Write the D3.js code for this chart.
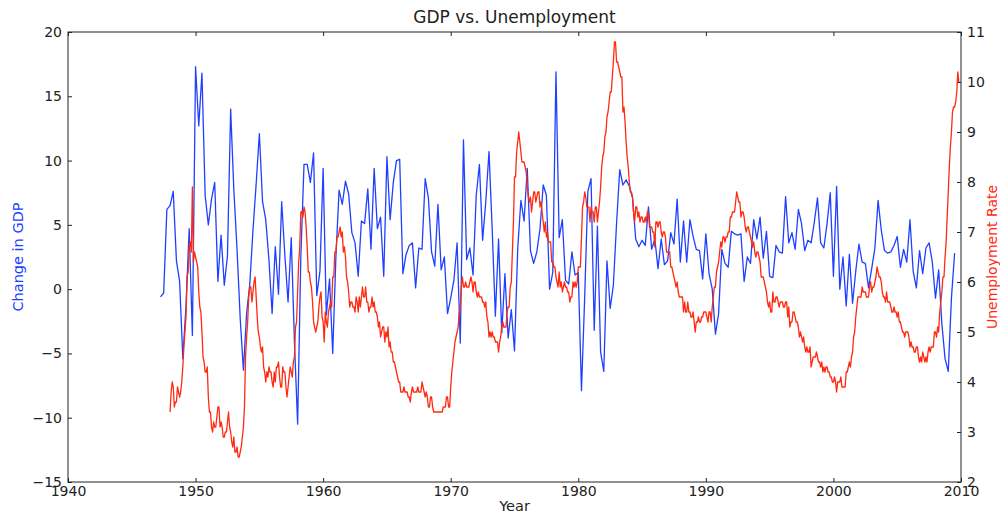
<!DOCTYPE html>
<html>
<head>
<meta charset="UTF-8">
<title>GDP vs. Unemployment</title>
<script src="https://d3js.org/d3.v7.min.js"></script>
<style>
body{margin:0;background:#fff;}
text{font-family:"DejaVu Sans",sans-serif;fill:#222;}
</style>
</head>
<body>
<script>
// quarterly real GDP change (annualised %), first value is 1947 Q2
var gdpStart = 1947.25;
var gdpChange = [
  -0.6,-0.3,6.2,
  6.5,7.6,2.2,0.6,
  -5.4,-1.3,4.7,-3.6,
  17.3,12.7,16.8,7.3,
  5.0,7.0,8.3,0.6,
  4.2,0.3,2.6,14.0,
  7.7,3.1,-2.3,-6.3,
  -1.9,0.4,4.6,8.2,
  12.1,6.8,5.4,2.3,
  -1.9,3.3,-0.4,6.8,
  2.6,-1.0,4.0,-4.1,
  -10.5,2.5,9.7,9.7,
  8.3,10.6,-0.5,1.4,
  9.4,-2.0,0.8,-5.0,
  2.5,7.7,6.6,8.4,
  7.4,4.4,3.6,1.0,
  5.3,5.1,7.8,3.1,
  9.4,4.7,5.6,1.0,
  10.3,5.4,8.3,10.0,
  10.1,1.2,2.7,3.4,
  3.6,0.1,3.2,3.1,
  8.6,7.1,2.9,1.8,
  6.6,1.5,2.5,-1.9,
  -0.7,0.7,3.6,-4.2,
  11.6,2.3,3.2,1.1,
  7.3,9.7,3.8,6.8,
  10.7,4.7,-2.1,3.9,
  -3.4,1.2,-3.8,-1.6,
  -4.8,3.1,6.9,5.3,
  9.4,3.0,2.0,2.9,
  4.7,8.1,7.3,0.0,
  1.3,16.9,4.0,5.4,
  0.7,0.4,2.9,1.1,
  1.3,-7.9,-0.7,7.6,
  8.6,-3.2,4.9,-4.9,
  -6.4,2.2,-1.5,0.3,
  5.1,9.3,8.1,8.5,
  8.0,7.1,3.9,3.3,
  3.8,3.4,6.4,3.1,
  3.9,1.6,3.9,1.9,
  2.2,4.4,3.5,7.0,
  2.1,5.3,2.1,5.4,
  4.1,3.1,3.0,0.8,
  4.3,1.2,0.0,-3.5,
  -1.9,3.1,2.0,1.7,
  4.5,4.3,4.2,4.3,
  0.6,2.5,2.0,5.4,
  3.9,5.6,2.4,4.5,
  1.0,0.9,3.4,2.9,
  2.8,7.2,3.6,4.4,
  3.1,6.2,5.1,3.0,
  3.8,3.6,5.2,7.1,
  3.6,3.2,5.1,7.5,
  1.0,8.0,0.0,2.5,
  -1.3,2.7,-1.1,1.4,
  3.5,2.1,2.0,0.1,
  1.6,3.2,6.9,4.6,
  3.0,2.8,2.9,3.4,
  4.1,1.7,3.1,2.1,
  5.4,1.4,0.1,3.0,
  1.2,3.2,3.6,2.1,
  -0.7,1.5,-2.7,-5.4,
  -6.4,-0.7,2.8
];

// monthly unemployment rate (%), first value is January 1948
var unempStart = 1948;
var unempRate = [
  3.4,3.8,4.0,3.9,3.5,3.6,3.6,3.9,3.8,3.7,3.8,4.0,
  4.3,4.7,5.0,5.3,6.1,6.2,6.7,6.8,6.6,7.9,6.4,6.6,
  6.5,6.4,6.3,5.8,5.5,5.4,5.0,4.5,4.4,4.2,4.2,4.3,
  3.7,3.4,3.4,3.1,3.0,3.2,3.1,3.1,3.3,3.5,3.5,3.1,
  3.2,3.1,2.9,2.9,3.0,3.0,3.2,3.4,3.1,3.0,2.8,2.7,
  2.9,2.6,2.6,2.7,2.5,2.5,2.6,2.7,2.9,3.1,3.5,4.5,
  4.9,5.2,5.7,5.9,5.9,5.6,5.8,6.0,6.1,5.7,5.3,5.0,
  4.9,4.7,4.6,4.7,4.3,4.2,4.0,4.2,4.1,4.3,4.2,4.2,
  4.0,3.9,4.2,4.0,4.3,4.3,4.4,4.1,3.9,3.9,4.3,4.2,
  4.2,3.9,3.7,3.9,4.1,4.3,4.2,4.1,4.4,4.5,5.1,5.2,
  5.8,6.4,6.7,7.4,7.4,7.3,7.5,7.4,7.1,6.7,6.2,6.2,
  6.0,5.9,5.6,5.2,5.1,5.0,5.1,5.2,5.5,5.7,5.8,5.3,
  5.2,4.8,5.4,5.2,5.1,5.4,5.5,5.6,5.5,6.1,6.1,6.6,
  6.6,6.9,6.9,7.0,7.1,6.9,7.0,6.6,6.7,6.5,6.1,6.0,
  5.8,5.5,5.6,5.6,5.5,5.5,5.4,5.7,5.6,5.4,5.7,5.5,
  5.7,5.9,5.7,5.7,5.9,5.6,5.6,5.4,5.5,5.5,5.7,5.5,
  5.6,5.4,5.4,5.3,5.1,5.2,4.9,5.0,5.1,5.1,4.8,5.0,
  4.9,5.1,4.7,4.8,4.6,4.6,4.4,4.4,4.3,4.2,4.1,4.0,
  4.0,3.8,3.8,3.8,3.9,3.8,3.8,3.8,3.7,3.7,3.6,3.8,
  3.9,3.8,3.8,3.8,3.8,3.9,3.8,3.8,3.8,4.0,3.9,3.8,
  3.7,3.8,3.7,3.5,3.5,3.7,3.7,3.5,3.4,3.4,3.4,3.4,
  3.4,3.4,3.4,3.4,3.4,3.5,3.5,3.5,3.7,3.7,3.5,3.5,
  3.9,4.2,4.4,4.6,4.8,4.9,5.0,5.1,5.4,5.5,5.9,6.1,
  5.9,5.9,6.0,5.9,5.9,5.9,6.0,6.1,6.0,5.8,6.0,6.0,
  5.8,5.7,5.8,5.7,5.7,5.7,5.6,5.6,5.5,5.6,5.3,5.2,
  4.9,5.0,4.9,5.0,4.9,4.9,4.8,4.8,4.8,4.6,4.8,4.9,
  5.1,5.2,5.1,5.1,5.1,5.4,5.5,5.5,5.9,6.0,6.6,7.2,
  8.1,8.1,8.6,8.8,9.0,8.8,8.6,8.4,8.4,8.4,8.3,8.2,
  7.9,7.7,7.6,7.7,7.4,7.6,7.8,7.8,7.6,7.7,7.8,7.8,
  7.5,7.6,7.4,7.2,7.0,7.2,6.9,7.0,6.8,6.8,6.8,6.4,
  6.4,6.3,6.3,6.1,6.0,5.9,6.2,5.9,6.0,5.8,5.9,6.0,
  5.9,5.9,5.8,5.8,5.6,5.7,5.7,6.0,5.9,6.0,5.9,6.0,
  6.3,6.3,6.3,6.9,7.5,7.6,7.8,7.7,7.5,7.5,7.5,7.2,
  7.5,7.4,7.4,7.2,7.5,7.5,7.2,7.4,7.6,7.9,8.3,8.5,
  8.6,8.9,9.0,9.3,9.4,9.6,9.8,9.8,10.1,10.4,10.8,10.8,
  10.4,10.4,10.3,10.2,10.1,10.1,9.4,9.5,9.2,8.8,8.5,8.3,
  8.0,7.8,7.8,7.7,7.4,7.2,7.5,7.5,7.3,7.4,7.2,7.3,
  7.3,7.2,7.2,7.3,7.2,7.4,7.4,7.1,7.1,7.1,7.0,7.0,
  6.7,7.2,7.2,7.1,7.2,7.2,7.0,6.9,7.0,7.0,6.9,6.6,
  6.6,6.6,6.6,6.3,6.3,6.2,6.1,6.0,5.9,6.0,5.8,5.7,
  5.7,5.7,5.7,5.4,5.6,5.4,5.4,5.6,5.4,5.4,5.3,5.3,
  5.4,5.2,5.0,5.2,5.2,5.3,5.2,5.2,5.3,5.3,5.4,5.4,
  5.4,5.3,5.2,5.4,5.4,5.2,5.5,5.7,5.9,5.9,6.2,6.3,
  6.4,6.6,6.8,6.7,6.9,6.9,6.8,6.9,6.9,7.0,7.0,7.3,
  7.3,7.4,7.4,7.4,7.6,7.8,7.7,7.6,7.6,7.3,7.4,7.4,
  7.3,7.1,7.0,7.1,7.1,7.0,6.9,6.8,6.7,6.8,6.6,6.5,
  6.6,6.6,6.5,6.4,6.1,6.1,6.1,6.0,5.9,5.8,5.6,5.5,
  5.6,5.4,5.4,5.8,5.6,5.6,5.7,5.7,5.6,5.5,5.6,5.6,
  5.6,5.5,5.5,5.6,5.6,5.3,5.5,5.1,5.2,5.2,5.4,5.4,
  5.3,5.2,5.2,5.1,4.9,5.0,4.9,4.8,4.9,4.7,4.6,4.7,
  4.6,4.6,4.7,4.3,4.4,4.5,4.5,4.5,4.6,4.5,4.4,4.4,
  4.3,4.4,4.2,4.3,4.2,4.3,4.3,4.2,4.2,4.1,4.1,4.0,
  4.0,4.1,4.0,3.8,4.0,4.0,4.0,4.1,3.9,3.9,3.9,3.9,
  4.2,4.2,4.3,4.4,4.3,4.5,4.6,4.9,5.0,5.3,5.5,5.7,
  5.7,5.7,5.7,5.9,5.8,5.8,5.8,5.7,5.7,5.7,5.9,6.0,
  5.8,5.9,5.9,6.0,6.1,6.3,6.2,6.1,6.1,6.0,5.8,5.7,
  5.7,5.6,5.8,5.6,5.6,5.6,5.5,5.4,5.4,5.5,5.4,5.4,
  5.3,5.4,5.2,5.2,5.1,5.0,5.0,4.9,5.0,5.0,5.0,4.9,
  4.7,4.8,4.7,4.7,4.6,4.6,4.7,4.7,4.5,4.4,4.5,4.4,
  4.6,4.5,4.4,4.5,4.4,4.6,4.7,4.6,4.7,4.7,4.7,5.0,
  5.0,4.9,5.1,5.0,5.4,5.6,5.8,6.1,6.1,6.5,6.8,7.3,
  7.8,8.3,8.7,9.0,9.4,9.5,9.5,9.6,9.8,10.2,10.0
];

var yearTicks = [1940,1950,1960,1970,1980,1990,2000,2010];
var gdpTicks = [-15,-10,-5,0,5,10,15,20];
var unempTicks = [2,3,4,5,6,7,8,9,10,11];

var w = 1000, h = 515;
var margin = {top:32, right:39, bottom:33, left:68};
var blue = "#2040ff", red = "#ff2a10";

var svg = d3.select("body").append("svg")
    .attr("width", w)
    .attr("height", h);

var x = d3.scaleLinear().domain([1940,2010]).range([margin.left, w-margin.right]);
var yGdp = d3.scaleLinear().domain([-15,20]).range([h-margin.bottom, margin.top]);
var yUnemp = d3.scaleLinear().domain([2,11]).range([h-margin.bottom, margin.top]);

var fmt = d3.format("d");

// axes, ticks point inward like the old matplotlib style
svg.append("g")
    .attr("transform","translate(0,"+(h-margin.bottom)+")")
    .call(d3.axisBottom(x).tickValues(yearTicks).tickFormat(fmt).tickSize(-4).tickPadding(4));
svg.append("g")
    .attr("transform","translate(0,"+margin.top+")")
    .call(d3.axisTop(x).tickValues(yearTicks).tickFormat("").tickSize(-4));
svg.append("g")
    .attr("transform","translate("+margin.left+",0)")
    .call(d3.axisLeft(yGdp).tickValues(gdpTicks).tickFormat(fmt).tickSize(-4).tickPadding(6));
svg.append("g")
    .attr("transform","translate("+(w-margin.right)+",0)")
    .call(d3.axisRight(yUnemp).tickValues(unempTicks).tickFormat(fmt).tickSize(-4).tickPadding(6));

svg.selectAll(".domain").remove();
svg.selectAll(".tick line").attr("stroke","#222");
svg.selectAll(".tick text")
    .style("font-family","'DejaVu Sans',sans-serif")
    .style("font-size","14px")
    .attr("fill","#222");

// lines
var gdpLine = d3.line()
    .x(function(d,i){ return x(gdpStart + i*0.25); })
    .y(function(d){ return yGdp(d); });
var unempLine = d3.line()
    .x(function(d,i){ return x(unempStart + i/12); })
    .y(function(d){ return yUnemp(d); });

svg.append("path")
    .datum(gdpChange)
    .attr("d", gdpLine)
    .attr("fill","none")
    .attr("stroke", blue)
    .attr("stroke-width",1.3)
    .attr("stroke-linejoin","round");

svg.append("path")
    .datum(unempRate)
    .attr("d", unempLine)
    .attr("fill","none")
    .attr("stroke", red)
    .attr("stroke-width",1.3)
    .attr("stroke-linejoin","round");

// frame
svg.append("rect")
    .attr("x", margin.left)
    .attr("y", margin.top)
    .attr("width", w-margin.left-margin.right)
    .attr("height", h-margin.top-margin.bottom)
    .attr("fill","none")
    .attr("stroke","#222")
    .attr("stroke-width",1);

// labels
svg.append("text")
    .attr("x", (margin.left + w - margin.right)/2)
    .attr("y", 23)
    .attr("text-anchor","middle")
    .style("font-size","17px")
    .text("GDP vs. Unemployment");

svg.append("text")
    .attr("x", (margin.left + w - margin.right)/2)
    .attr("y", 511)
    .attr("text-anchor","middle")
    .style("font-size","14.5px")
    .text("Year");

svg.append("text")
    .attr("transform","translate(23,"+((margin.top+h-margin.bottom)/2)+") rotate(-90)")
    .attr("text-anchor","middle")
    .style("font-size","14.5px")
    .style("fill", blue)
    .text("Change in GDP");

svg.append("text")
    .attr("transform","translate(997,"+((margin.top+h-margin.bottom)/2)+") rotate(-90)")
    .attr("text-anchor","middle")
    .style("font-size","14px")
    .style("fill", red)
    .text("Unemployment Rate");
</script>
</body>
</html>
